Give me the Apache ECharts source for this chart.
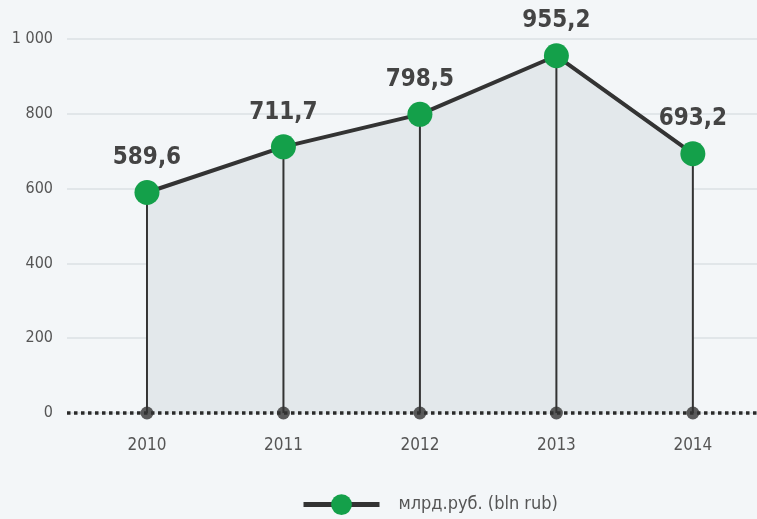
<!DOCTYPE html>
<html>
<head>
<meta charset="utf-8">
<script src="https://cdn.jsdelivr.net/npm/echarts@6/dist/echarts.min.js"></script>
<style>
html,body{margin:0;padding:0;background:#f3f6f8;}
#chart{width:757px;height:519px;}
</style>
</head>
<body>
<div id="chart"></div>
<script>
var years = ['2010', '2011', '2012', '2013', '2014'];
var values = [589.6, 711.7, 798.5, 955.2, 693.2];
var seriesName = 'млрд.руб. (bln rub)';

var yearNums = years.map(Number);
var pts = yearNums.map(function (y, i) { return [y, values[i]]; });
var base = yearNums.map(function (y) { return [y, 0]; });

var font = '"DejaVu Sans Condensed", "Liberation Sans Narrow", sans-serif';
var chart = echarts.init(document.getElementById('chart'));
chart.setOption({
  backgroundColor: '#f3f6f8',
  animation: false,
  grid: { left: 67, right: 0, top: 39, bottom: 106 },
  legend: {
    bottom: -1,
    left: 296,
    data: [seriesName],
    itemWidth: 76,
    itemHeight: 26,
    itemGap: 10,
    lineStyle: { width: 5, color: '#333' },
    textStyle: { fontFamily: font, fontSize: 18, color: '#555', padding: [0, 0, 0, 14] }
  },
  xAxis: {
    type: 'value',
    min: 2009.414,
    max: 2014.47,
    z: 2,
    splitLine: { show: false },
    axisLine: { show: true, onZero: true, lineStyle: { color: '#2a2a2a', width: 3.5, type: 'dotted', cap: 'butt' } },
    axisTick: { show: false },
    axisLabel: {
      customValues: yearNums,
      formatter: function (v) { return String(v); },
      margin: 24,
      fontFamily: font,
      fontSize: 17,
      color: '#555'
    }
  },
  yAxis: {
    type: 'value',
    min: 0,
    max: 1000,
    interval: 200,
    axisLine: { show: false },
    axisTick: { show: false },
    splitLine: { lineStyle: { color: '#e1e6e9', width: 2 } },
    axisLabel: {
      formatter: function (v) { return v >= 1000 ? '1 000' : String(v); },
      margin: 14,
      fontFamily: font,
      fontSize: 16,
      color: '#555'
    }
  },
  series: [
    {
      type: 'line',
      data: pts,
      symbol: 'none',
      lineStyle: { width: 0 },
      areaStyle: { color: '#e3e8eb', opacity: 1 },
      silent: true,
      z: 1
    },
    {
      type: 'bar',
      data: pts,
      barWidth: 2,
      itemStyle: { color: '#333' },
      silent: true,
      z: 2
    },
    {
      type: 'scatter',
      data: base,
      symbolSize: 13,
      itemStyle: { color: '#333' },
      silent: true,
      z: 3
    },
    {
      name: seriesName,
      type: 'line',
      data: pts,
      symbol: 'circle',
      symbolSize: 25,
      lineStyle: { color: '#333', width: 4 },
      itemStyle: { color: '#14a04a', borderWidth: 0 },
      label: {
        show: true,
        position: 'top',
        distance: 10,
        formatter: function (p) { return String(p.value[1]).replace('.', ','); },
        fontFamily: font,
        fontWeight: 'bold',
        fontSize: 24,
        color: '#444'
      },
      z: 4
    }
  ]
});
</script>
</body>
</html>
